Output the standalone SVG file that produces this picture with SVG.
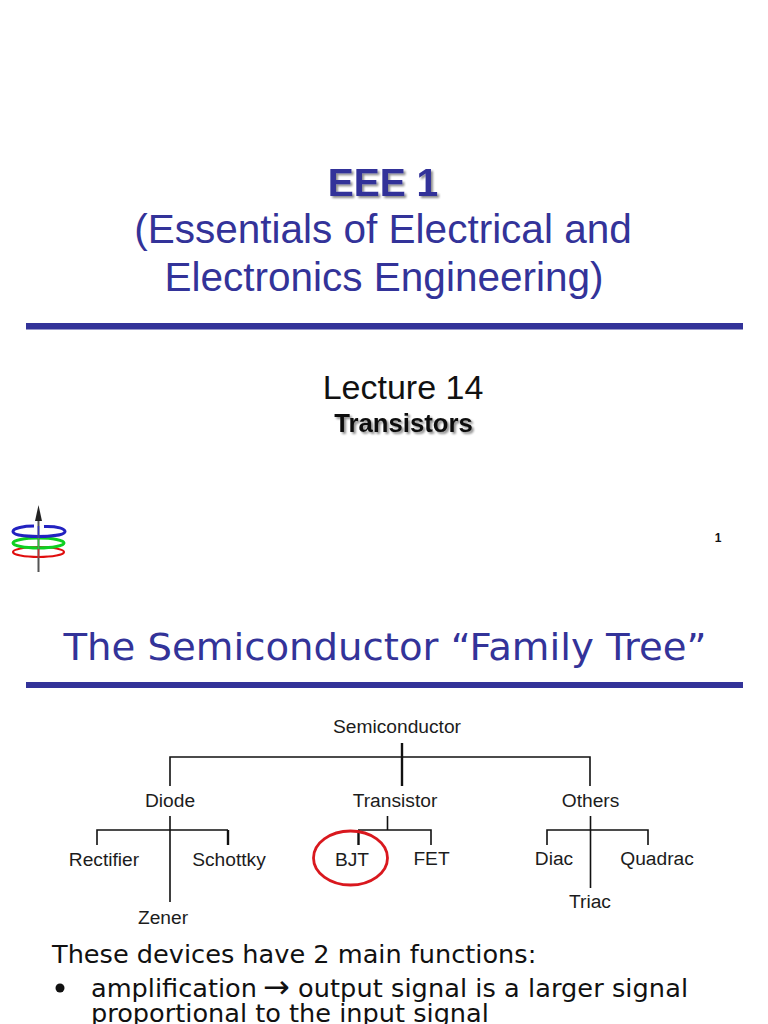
<svg xmlns="http://www.w3.org/2000/svg" width="768" height="1024" viewBox="0 0 768 1024">
<style>
.s{font-family:"Liberation Sans",Arial,sans-serif}
.v{font-family:"DejaVu Sans",Verdana,sans-serif}
.h{fill:#333399;font-size:40.5px;text-anchor:middle}
.n{font-size:19.2px;fill:#1c1c1c;text-anchor:middle}
.b{font-size:25.6px;fill:#111}
.c{stroke:#111;stroke-width:1.6;fill:none}
.t{stroke-width:2.4}
.bar{fill:#333399}
</style>
<defs>
<filter id="sh" x="-10%" y="-20%" width="120%" height="150%"><feGaussianBlur in="SourceAlpha" stdDeviation="1.3"/><feOffset dx="2" dy="2"/><feComponentTransfer><feFuncA type="linear" slope="0.45"/></feComponentTransfer><feMerge><feMergeNode/><feMergeNode in="SourceGraphic"/></feMerge></filter>
<filter id="bl"><feGaussianBlur stdDeviation="0.5"/></filter>
</defs>
<rect width="768" height="1024" fill="#fff"/>
<g id="slide1-title">
<text class="s" x="383" y="196" font-size="39" font-weight="700" fill="#333399" text-anchor="middle" filter="url(#sh)">EEE 1</text>
<text class="s h" x="383" y="243">(Essentials of Electrical and</text>
<text class="s h" x="384" y="291">Electronics Engineering)</text>
</g>
<rect class="bar" x="26" y="323" width="717" height="6.5"/>
<g id="slide1-sub">
<text class="s" x="403" y="399" font-size="34" fill="#111" text-anchor="middle">Lecture 14</text>
<text class="s" x="403.500" y="432" font-size="25.7" font-weight="700" fill="#111" text-anchor="middle" filter="url(#sh)">Transistors</text>
</g>
<g id="logo" filter="url(#bl)" fill="none">
<ellipse cx="38.500" cy="552" rx="25.500" ry="5" stroke="#e01010" stroke-width="2.200"/>
<ellipse cx="38.500" cy="543" rx="25.500" ry="5" stroke="#10d020" stroke-width="3"/>
<path d="M44 526.500C58 526 65 529 65 531.500C65 535 50 536.500 38 536.500C24 536.500 13 535 13 531.500C13 528 24 526 34 526" stroke="#2020c0" stroke-width="3"/>
<path d="M38.500 572V520" stroke="#555" stroke-width="2"/>
<path d="M38.500 505L35 521H42Z" fill="#222"/>
<path d="M38.500 526V538" stroke="#3030c0" stroke-width="1.500"/>
<path d="M38.500 538V549" stroke="#30c040" stroke-width="1.500"/>
<path d="M38.500 549V558" stroke="#c03030" stroke-width="1.500"/>
</g>
<text id="page" class="s" x="718" y="542" font-size="12" font-weight="700" fill="#111" text-anchor="middle">1</text>
<g id="slide2-title">
<text class="v" x="385" y="660" font-size="38" fill="#333399" text-anchor="middle" textLength="643" lengthAdjust="spacingAndGlyphs">The Semiconductor “Family Tree”</text>
</g>
<rect class="bar" x="26" y="682" width="717" height="6"/>
<g id="connectors">
<path class="c" d="M170 786V757H590V786"/>
<path class="c t" d="M402 743V786"/>
<path class="c" d="M170 816V902M97 845V830H228"/>
<path class="c t" d="M228 830V845"/>
<path class="c" d="M387.500 816V830M358 830H431V845"/>
<path class="c t" d="M358.500 830V845"/>
<path class="c" d="M590.500 816V888M547 845V830H648V845"/>
</g>
<g id="semiconductor"><text class="s n" x="397" y="733">Semiconductor</text></g>
<g id="diode"><text class="s n" x="170" y="807">Diode</text></g>
<g id="transistor"><text class="s n" x="395" y="807">Transistor</text></g>
<g id="others"><text class="s n" x="590.500" y="807">Others</text></g>
<g id="rectifier"><text class="s n" x="104" y="866">Rectifier</text></g>
<g id="schottky"><text class="s n" x="229" y="866">Schottky</text></g>
<g id="zener"><text class="s n" x="163" y="924">Zener</text></g>
<g id="bjt"><text class="s n" x="352" y="866">BJT</text><ellipse cx="350.500" cy="858" rx="37" ry="27" fill="none" stroke="#d9181e" stroke-width="2.800"/></g>
<g id="fet"><text class="s n" x="431.500" y="865">FET</text></g>
<g id="diac"><text class="s n" x="554" y="865">Diac</text></g>
<g id="quadrac"><text class="s n" x="657" y="865">Quadrac</text></g>
<g id="triac"><text class="s n" x="590" y="908">Triac</text></g>
<g id="body">
<text class="v b" x="52" y="963">These devices have 2 main functions:</text>
<circle cx="60" cy="988" r="4.500" fill="#111"/>
<text class="v b" x="91" y="997">amplification</text>
<text class="v" x="263" y="998" font-size="32" fill="#111">→</text>
<text class="v b" x="298" y="997" textLength="390" lengthAdjust="spacing">output signal is a larger signal</text>
<text class="v b" x="91" y="1022">proportional to the input signal</text>
</g>
</svg>
